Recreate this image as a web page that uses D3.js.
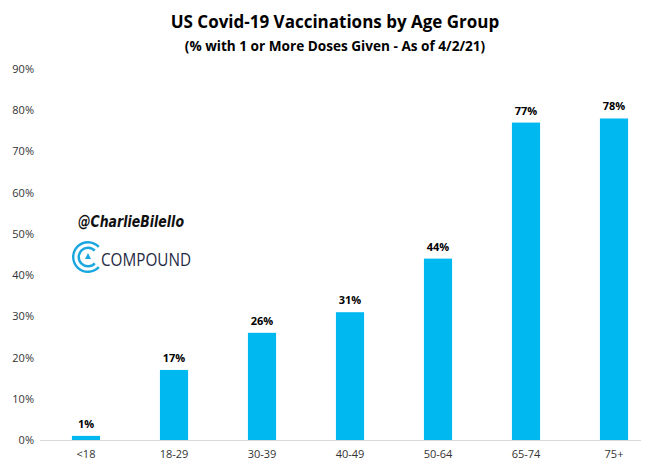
<!DOCTYPE html>
<html>
<head>
<meta charset="utf-8">
<script src="https://cdn.jsdelivr.net/npm/d3@7"></script>
<style>
  body { margin: 0; background: #fff; }
  text { font-family: "Open Sans", "DejaVu Sans", sans-serif; }
</style>
</head>
<body>
<svg width="645" height="471"></svg>
<script>
const ageGroups = ["<18", "18-29", "30-39", "40-49", "50-64", "65-74", "75+"];
const pctVaccinated = [1, 17, 26, 31, 44, 77, 78];
const yTicks = [0, 10, 20, 30, 40, 50, 60, 70, 80, 90];

const svg = d3.select("svg");
const data = ageGroups.map((g, i) => ({group: g, value: pctVaccinated[i]}));

const x = d3.scaleBand()
  .domain(ageGroups)
  .range([42, 658])
  .paddingInner(0.68)
  .paddingOuter(0.34);
const y = d3.scaleLinear()
  .domain([0, 90])
  .range([440, 69]);

// titles
svg.append("text")
  .attr("x", 335).attr("y", 28)
  .attr("text-anchor", "middle")
  .attr("font-size", 17).attr("font-weight", "bold")
  .attr("fill", "#000")
  .text("US Covid-19 Vaccinations by Age Group");
svg.append("text")
  .attr("x", 335).attr("y", 51)
  .attr("text-anchor", "middle")
  .attr("font-size", 13.6).attr("font-weight", "bold")
  .attr("fill", "#000")
  .text("(% with 1 or More Doses Given - As of 4/2/21)");

// y axis labels only
const yAxis = svg.append("g")
  .attr("transform", "translate(34,0)")
  .call(d3.axisLeft(y).tickValues(yTicks).tickFormat(d => d + "%").tickSize(0).tickPadding(0));
yAxis.select(".domain").remove();
yAxis.selectAll("text")
  .attr("font-size", 11)
  .attr("fill", "#333")
  .style("font-family", "'Open Sans', sans-serif");

// bars
svg.append("g")
  .selectAll("rect")
  .data(data)
  .join("rect")
  .attr("x", d => x(d.group))
  .attr("y", d => y(d.value))
  .attr("width", x.bandwidth())
  .attr("height", d => y(0) - y(d.value))
  .attr("fill", "#00b8f0");

// value labels
svg.append("g")
  .selectAll("text")
  .data(data)
  .join("text")
  .attr("x", d => x(d.group) + x.bandwidth() / 2)
  .attr("y", d => y(d.value) - 8)
  .attr("text-anchor", "middle")
  .attr("font-size", 11).attr("font-weight", "bold")
  .attr("fill", "#000")
  .text(d => d.value + "%");

// x axis
const xAxis = svg.append("g")
  .attr("transform", "translate(0," + y(0) + ")")
  .call(d3.axisBottom(x).tickSize(0).tickPadding(10));
xAxis.select(".domain").remove();
xAxis.selectAll("text")
  .attr("font-size", 11)
  .attr("fill", "#333")
  .style("font-family", "'Open Sans', sans-serif");
svg.append("line")
  .attr("x1", 40).attr("x2", 641)
  .attr("y1", y(0) + 0.5).attr("y2", y(0) + 0.5)
  .attr("stroke", "#d9d9d9").attr("stroke-width", 1);

// watermark
svg.append("text")
  .attr("x", 78).attr("y", 227)
  .attr("font-size", 15).attr("font-style", "italic").attr("font-weight", "bold")
  .attr("fill", "#111")
  .attr("textLength", 106).attr("lengthAdjust", "spacingAndGlyphs")
  .style("font-family", "'DejaVu Sans', sans-serif")
  .text("@CharlieBilello");

const logo = svg.append("g").attr("transform", "translate(88,257)");
[16, 10.5].forEach(r => {
  logo.append("path")
    .attr("d", d3.arc().innerRadius(r - 2.4).outerRadius(r)
      .startAngle(Math.PI / 2 + 0.75).endAngle(Math.PI / 2 + 2 * Math.PI - 0.75)())
    .attr("fill", "#1aa7e0");
});
logo.append("path")
  .attr("d", "M0,-4 L3,2 L-3,2 Z")
  .attr("fill", "#1aa7e0");
svg.append("text")
  .attr("x", 101).attr("y", 266)
  .attr("font-size", 19)
  .attr("fill", "#1f2a44")
  .attr("textLength", 90).attr("lengthAdjust", "spacingAndGlyphs")
  .style("font-family", "'Open Sans', sans-serif")
  .text("COMPOUND");
</script>
</body>
</html>
